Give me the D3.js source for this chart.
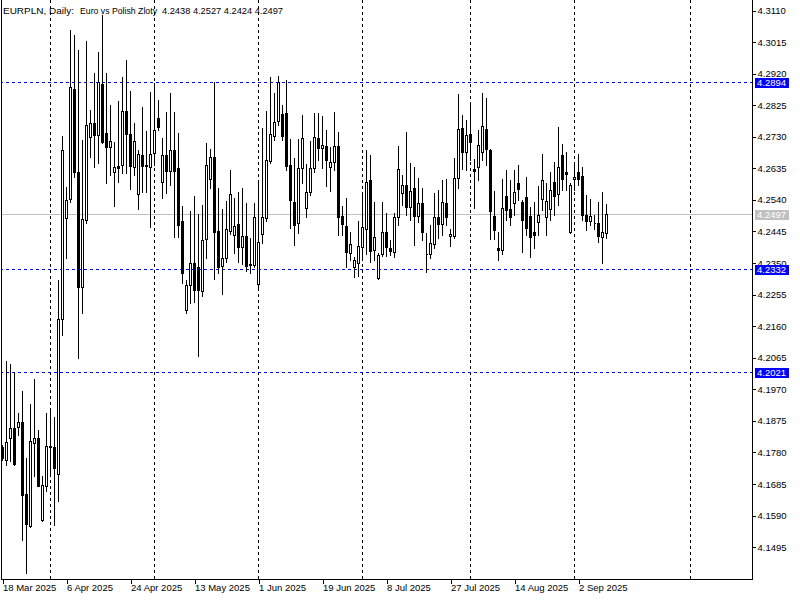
<!DOCTYPE html>
<html><head><meta charset="utf-8">
<script src="https://cdn.jsdelivr.net/npm/d3@7"></script>
<style>
body{margin:0;background:#fff;}
svg{display:block;}
text{font-family:"Liberation Sans",Arial,sans-serif;font-size:9.5px;fill:#000;}
</style>
</head><body>
<svg id="chart" width="800" height="600"></svg>
<script>
// ---- data ----
const opens  = [4.1795,4.1756,4.1822,4.1852,4.1855,4.1870,4.1654,4.1557,4.1808,4.1822,
 4.1575,4.1679,4.1797,4.1794,4.1713,4.2179,4.2483,4.2540,4.2872,4.2622,
 4.2277,4.2478,4.2729,4.2769,4.2733,4.2886,4.2739,4.2699,4.2623,4.2640,
 4.2644,4.2806,4.2736,4.2637,4.2555,4.2674,4.2644,4.2638,4.2681,4.2784,
 4.2593,4.2674,4.2626,4.2689,4.2634,4.2475,4.2207,4.2282,4.2348,4.2336,
 4.2265,4.2420,4.2600,4.2667,4.2445,4.2340,4.2363,4.2446,4.2433,4.2465,
 4.2398,4.2430,4.2346,4.2344,4.2285,4.2435,4.2485,4.2656,4.2732,4.2777,
 4.2798,4.2799,4.2644,4.2533,4.2468,4.2634,4.2515,4.2561,4.2634,4.2724,
 4.2696,4.2701,4.2638,4.2653,4.2701,4.2490,4.2460,4.2380,4.2336,4.2350,
 4.2396,4.2450,4.2598,4.2388,4.2303,4.2375,4.2443,4.2393,4.2383,4.2488,
 4.2558,4.2583,4.2518,4.2575,4.2491,4.2528,4.2376,4.2375,4.2405,4.2486,
 4.2465,4.2528,4.2430,4.2431,4.2604,4.2754,4.2684,4.2737,4.2631,4.2638,
 4.2684,4.2751,4.2689,4.2490,4.2393,4.2388,4.2550,4.2512,4.2530,4.2590,
 4.2532,4.2548,4.2490,4.2441,4.2473,4.2540,4.2486,4.2511,4.2592,4.2555,
 4.2673,4.2622,4.2443,4.2600,4.2622,4.2610,4.2493,4.2476,4.2469,4.2468,
 4.2428,4.2438];
const highs  = [4.1801,4.2054,4.2045,4.2020,4.1897,4.1963,4.1761,4.1924,4.2000,4.1846,
 4.1708,4.1897,4.1906,4.1885,4.2298,4.2731,4.2578,4.3050,4.3035,4.2990,
 4.2719,4.3017,4.2809,4.2921,4.2983,4.3095,4.2921,4.2824,4.2712,4.2836,
 4.2907,4.2960,4.2867,4.2769,4.2689,4.2819,4.2747,4.2864,4.2890,4.2839,
 4.2724,4.2804,4.2859,4.2804,4.2739,4.2520,4.2298,4.2505,4.2550,4.2496,
 4.2523,4.2711,4.2691,4.2894,4.2573,4.2510,4.2535,4.2628,4.2543,4.2563,
 4.2573,4.2530,4.2423,4.2530,4.2593,4.2754,4.2806,4.2908,4.2861,4.2912,
 4.2824,4.2899,4.2721,4.2664,4.2721,4.2794,4.2647,4.2716,4.2801,4.2799,
 4.2791,4.2749,4.2699,4.2804,4.2744,4.2520,4.2543,4.2441,4.2368,4.2476,
 4.2553,4.2689,4.2674,4.2533,4.2379,4.2533,4.2500,4.2418,4.2500,4.2701,
 4.2613,4.2744,4.2650,4.2638,4.2604,4.2573,4.2438,4.2463,4.2560,4.2568,
 4.2598,4.2600,4.2451,4.2664,4.2857,4.2794,4.2779,4.2827,4.2661,4.2749,
 4.2859,4.2844,4.2692,4.2565,4.2443,4.2600,4.2628,4.2598,4.2628,4.2644,
 4.2538,4.2608,4.2518,4.2533,4.2580,4.2677,4.2590,4.2622,4.2653,4.2757,
 4.2707,4.2684,4.2589,4.2644,4.2677,4.2637,4.2553,4.2541,4.2493,4.2533,
 4.2563,4.2527];
const lows   = [4.1756,4.1741,4.1754,4.1742,4.1831,4.1515,4.1417,4.1554,4.1709,4.1677,
 4.1572,4.1663,4.1711,4.1561,4.1633,4.2131,4.2365,4.2533,4.2607,4.2062,
 4.2197,4.2468,4.2668,4.2638,4.2650,4.2710,4.2588,4.2613,4.2521,4.2593,
 4.2619,4.2619,4.2570,4.2613,4.2510,4.2563,4.2562,4.2458,4.2644,4.2749,
 4.2543,4.2558,4.2583,4.2428,4.2428,4.2288,4.2197,4.2229,4.2232,4.2069,
 4.2249,4.2365,4.2573,4.2300,4.2318,4.2254,4.2353,4.2436,4.2378,4.2353,
 4.2345,4.2325,4.2318,4.2338,4.2277,4.2408,4.2476,4.2650,4.2719,4.2764,
 4.2719,4.2628,4.2453,4.2403,4.2438,4.2590,4.2486,4.2553,4.2622,4.2659,
 4.2634,4.2580,4.2566,4.2628,4.2433,4.2433,4.2337,4.2358,4.2306,4.2310,
 4.2368,4.2376,4.2353,4.2358,4.2301,4.2370,4.2370,4.2373,4.2368,4.2463,
 4.2523,4.2493,4.2478,4.2403,4.2472,4.2418,4.2322,4.2364,4.2394,4.2423,
 4.2433,4.2463,4.2401,4.2424,4.2573,4.2631,4.2628,4.2659,4.2513,4.2598,
 4.2659,4.2644,4.2420,4.2420,4.2358,4.2376,4.2478,4.2463,4.2493,4.2538,
 4.2382,4.2433,4.2366,4.2394,4.2433,4.2508,4.2433,4.2478,4.2493,4.2523,
 4.2568,4.2568,4.2440,4.2568,4.2583,4.2478,4.2448,4.2463,4.2450,4.2412,
 4.2350,4.2424];
const closes = [4.1762,4.1810,4.1852,4.1744,4.1870,4.1651,4.1564,4.1813,4.1821,4.1679,
 4.1680,4.1798,4.1795,4.1733,4.2179,4.2689,4.2538,4.2877,4.2622,4.2277,
 4.2480,4.2763,4.2769,4.2733,4.2894,4.2714,4.2699,4.2716,4.2638,4.2635,
 4.2806,4.2736,4.2641,4.2716,4.2676,4.2641,4.2641,4.2676,4.2749,4.2759,
 4.2674,4.2626,4.2689,4.2626,4.2463,4.2318,4.2282,4.2350,4.2267,4.2267,
 4.2418,4.2644,4.2667,4.2443,4.2337,4.2363,4.2450,4.2555,4.2460,4.2398,
 4.2430,4.2340,4.2344,4.2487,4.2411,4.2487,4.2659,4.2736,4.2772,4.2892,
 4.2732,4.2640,4.2538,4.2463,4.2634,4.2724,4.2563,4.2634,4.2727,4.2696,
 4.2703,4.2659,4.2652,4.2701,4.2488,4.2465,4.2383,4.2405,4.2358,4.2400,
 4.2458,4.2592,4.2386,4.2426,4.2373,4.2443,4.2396,4.2386,4.2486,4.2631,
 4.2583,4.2518,4.2565,4.2490,4.2528,4.2441,4.2375,4.2410,4.2486,4.2465,
 4.2531,4.2488,4.2436,4.2604,4.2751,4.2684,4.2734,4.2714,4.2626,4.2704,
 4.2761,4.2691,4.2506,4.2448,4.2388,4.2515,4.2508,4.2488,4.2562,4.2571,
 4.2478,4.2455,4.2428,4.2433,4.2493,4.2598,4.2535,4.2568,4.2551,4.2638,
 4.2602,4.2617,4.2583,4.2607,4.2600,4.2493,4.2476,4.2490,4.2468,4.2431,
 4.2441,4.2497];

const dateLabels   = ["18 Mar 2025","6 Apr 2025","24 Apr 2025","13 May 2025","1 Jun 2025",
                      "19 Jun 2025","8 Jul 2025","27 Jul 2025","14 Aug 2025","2 Sep 2025"];
const dateLabelBar = [0,16,32,48,64,80,96,112,128,144];
const monthStartBar = [12,38,64,90,117,143,172];
const priceTicks = [4.3110,4.3015,4.2920,4.2825,4.2730,4.2635,4.2540,4.2445,4.2350,
                    4.2255,4.2160,4.2065,4.1970,4.1875,4.1780,4.1685,4.1590,4.1495];
const levelLines = [4.2894,4.2332,4.2021];
const bidPrice = 4.2497;
const titleParts = ["EURPLN, Daily:", "Euro vs Polish Zloty", "4.2438 4.2527 4.2424 4.2497"];

// ---- layout ----
const plotRight = 752, plotBottom = 579;
const svg = d3.select("#chart");
const x = d3.scaleLinear().domain([0, 187]).range([2, 750]);       // 4 px per bar
const y = d3.scaleLinear().domain([4.3110, 4.1495]).range([10, 546.7]);
const py = v => Math.round(y(v)) + 0.5;
const px = i => Math.round(x(i)) + 0.5;

svg.append("clipPath").attr("id","plotclip").append("rect")
  .attr("x",1).attr("y",0).attr("width",plotRight-1).attr("height",plotBottom);

const plot = svg.append("g").attr("clip-path","url(#plotclip)").attr("shape-rendering","crispEdges");

// vertical month grid
plot.selectAll("line.vgrid").data(monthStartBar).join("line")
  .attr("class","vgrid")
  .attr("x1",d=>px(d)).attr("x2",d=>px(d))
  .attr("y1",0).attr("y2",plotBottom)
  .attr("stroke","#000").attr("stroke-dasharray","3,3");

// bid line
plot.append("line").attr("x1",0).attr("x2",plotRight)
  .attr("y1",py(bidPrice)).attr("y2",py(bidPrice)).attr("stroke","#c0c0c0");

// level lines
plot.selectAll("line.lvl").data(levelLines).join("line")
  .attr("class","lvl")
  .attr("x1",0).attr("x2",plotRight)
  .attr("y1",d=>py(d)).attr("y2",d=>py(d))
  .attr("stroke","#0000ff").attr("stroke-dasharray","3,3");

// candles
const bars = opens.map((o,i)=>({i,o,h:highs[i],l:lows[i],c:closes[i]}));
const cg = plot.selectAll("g.candle").data(bars).join("g").attr("class","candle");
cg.append("line")
  .attr("x1",d=>px(d.i)).attr("x2",d=>px(d.i))
  .attr("y1",d=>Math.round(y(d.h))).attr("y2",d=>Math.round(y(d.l))+1)
  .attr("stroke","#000");
cg.append("path")
  .attr("d",d=>{
    const t = py(Math.max(d.o,d.c)), b = py(Math.min(d.o,d.c));
    const x0 = px(d.i)-1, x1 = px(d.i)+1;
    return `M${x0},${t}H${x1}V${b}H${x0}Z`;
  })
  .attr("fill",d=>d.c>=d.o ? "#fff" : "#000")
  .attr("stroke","#000");

// frame
const frame = svg.append("g").attr("shape-rendering","crispEdges").attr("stroke","#000");
frame.append("line").attr("x1",1.5).attr("x2",1.5).attr("y1",0).attr("y2",plotBottom+1);
frame.append("line").attr("x1",1).attr("x2",plotRight+1).attr("y1",plotBottom+0.5).attr("y2",plotBottom+0.5);
frame.append("line").attr("x1",plotRight+0.5).attr("x2",plotRight+0.5).attr("y1",0).attr("y2",plotBottom+1);

// right price axis
const yAxis = d3.axisRight(y).tickValues(priceTicks).tickFormat(d3.format(".4f")).tickSize(3).tickPadding(2);
const ya = svg.append("g").attr("transform",`translate(${plotRight+0.5},0.5)`).call(yAxis);
ya.select(".domain").remove();
ya.selectAll(".tick line").attr("stroke","#000").attr("shape-rendering","crispEdges");
ya.selectAll(".tick text").attr("font-family",null).attr("font-size",null).attr("fill","#000");

// bottom date axis
const xAxis = d3.axisBottom(x).tickValues(dateLabelBar).tickFormat((d,i)=>dateLabels[i]).tickSize(5);
const xa = svg.append("g").attr("transform",`translate(0.5,${plotBottom})`).call(xAxis);
xa.select(".domain").remove();
xa.selectAll(".tick line").attr("stroke","#000").attr("shape-rendering","crispEdges");
xa.selectAll(".tick text").attr("font-family",null).attr("font-size",null).attr("fill","#000")
  .attr("text-anchor","start").attr("x",0).attr("y",5).attr("dy","0.71em");

// price label boxes
const boxes = levelLines.map(v=>({v,bg:"#0000ff"})).concat([{v:bidPrice,bg:"#c0c0c0"}]);
const bx = svg.selectAll("g.pbox").data(boxes).join("g").attr("class","pbox")
  .attr("transform",d=>`translate(755,${Math.round(y(d.v))})`);
bx.append("rect").attr("x",0).attr("y",-4).attr("width",34).attr("height",10)
  .attr("fill",d=>d.bg).attr("shape-rendering","crispEdges");
bx.append("text").attr("x",2).attr("y",1).attr("dy","0.35em")
  .style("fill","#fff").text(d=>d3.format(".4f")(d.v));

// title
const titleX = [3, 80, 162];
const titleW = [71, 77, 121];
svg.selectAll("text.title").data(titleParts).join("text").attr("class","title")
  .attr("x",(d,i)=>titleX[i]).attr("y",14)
  .attr("textLength",(d,i)=>titleW[i]).attr("lengthAdjust","spacingAndGlyphs")
  .text(d=>d);
</script>
</body></html>
